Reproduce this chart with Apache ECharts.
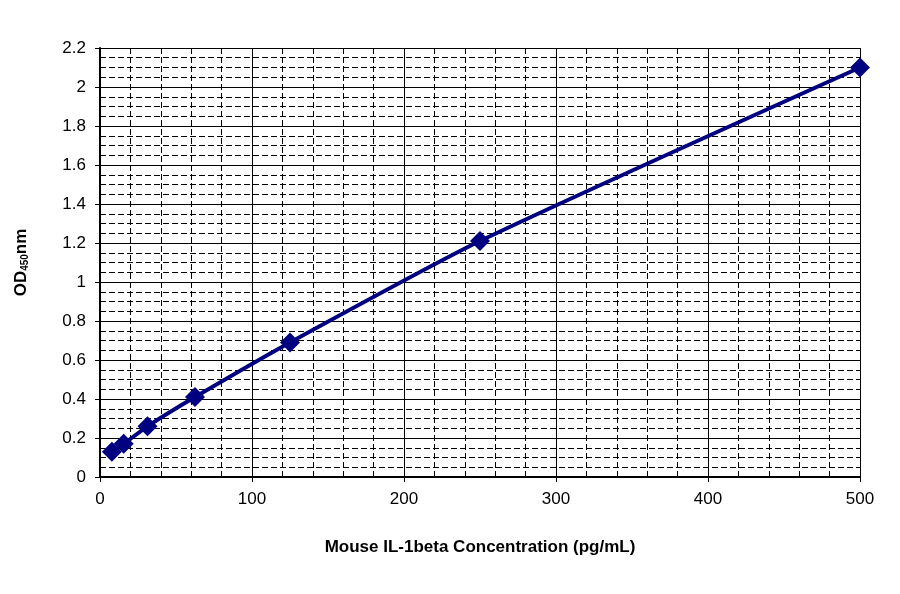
<!DOCTYPE html><html><head><meta charset="utf-8"><script src="https://cdn.jsdelivr.net/npm/echarts@6/dist/echarts.min.js"></script></head><body style="margin:0;background:#fff"><div id="c" style="width:900px;height:594px"></div><script>
const conc=[7.8,15.6,31.25,62.5,125,250,500];
const od=[0.13,0.17,0.26,0.41,0.69,1.21,2.1];
const ch=echarts.init(document.getElementById('c'));
const f='Arial, Liberation Sans, sans-serif';
ch.setOption({animation:false,
grid:{left:100,right:40,top:48,bottom:117},
xAxis:{type:'value',min:0,max:500,interval:100,
 name:'Mouse IL-1beta Concentration (pg/mL)',nameLocation:'middle',nameGap:62,
 nameTextStyle:{fontFamily:f,fontSize:17,fontWeight:'bold',color:'#000'},
 axisLabel:{fontFamily:f,fontSize:17,color:'#000',margin:14},
 axisLine:{lineStyle:{color:'#000',width:2}},axisTick:{show:true,length:5,lineStyle:{color:'#000'}},
 splitLine:{lineStyle:{color:'#000',width:1}},
 minorTick:{show:false,splitNumber:5},minorSplitLine:{show:true,lineStyle:{color:'#000',type:[6,3],width:1}}},
yAxis:{type:'value',min:0,max:2.2,interval:0.2,
 name:'OD{s|450}nm',nameLocation:'middle',nameGap:70,
 nameTextStyle:{fontFamily:f,fontSize:17,fontWeight:'bold',color:'#000',rich:{s:{fontSize:10,fontWeight:'bold',verticalAlign:'bottom',fontFamily:f}}},
 axisLabel:{fontFamily:f,fontSize:17,color:'#000',margin:14,formatter:v=>String(Math.round(v*10)/10)},
 axisLine:{show:true,lineStyle:{color:'#000',width:2}},axisTick:{show:true,length:5,lineStyle:{color:'#000'}},
 splitLine:{lineStyle:{color:'#000',width:1}},
 minorTick:{show:false,splitNumber:4},minorSplitLine:{show:true,lineStyle:{color:'#000',type:[6,3],width:1}}},
series:[{type:'line',data:conc.map((x,i)=>[x,od[i]]),smooth:0.2,symbol:'diamond',symbolSize:20,
 lineStyle:{color:'#000080',width:4},itemStyle:{color:'#000080'}}]});
</script></body></html>
